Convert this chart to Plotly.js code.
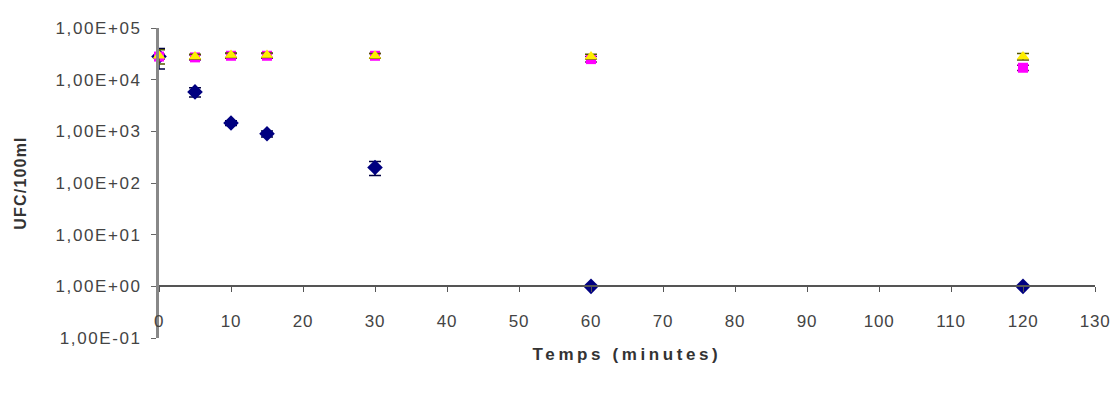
<!DOCTYPE html>
<html>
<head>
<meta charset="utf-8">
<script src="https://cdn.plot.ly/plotly-3.0.1.min.js"></script>
<style>
html,body{margin:0;padding:0;background:#fff;}
#chart{width:1116px;height:394px;}
#chart .ytick text{letter-spacing:1.6px;}
#chart .xtick text{letter-spacing:0.8px;}
#chart .xtitle{letter-spacing:3.6px;}
#chart .ytitle{letter-spacing:1.2px;}
</style>
</head>
<body>
<div id="chart"></div>
<script>
// Data
const times = [0, 5, 10, 15, 30, 60, 120];
const serieBleue = [28000, 5800, 1450, 900, 200, 1, 1];
const erreurBleue = [12000, 1200, 150, 120, 60, 0, 0];
const serieMagenta = [28000, 27000, 29000, 29000, 29000, 25000, 17000];
const erreurMagenta = [3000, 3000, 3000, 3000, 3000, 3000, 2000];
const serieJaune = [29000, 28000, 30000, 30000, 29000, 28000, 28000];
const erreurJaune = [9000, 3000, 3000, 3000, 3000, 3000, 4000];
const yTickVals = [0.1, 1, 10, 100, 1000, 10000, 100000];
const yTickText = ['1,00E-01', '1,00E+00', '1,00E+01', '1,00E+02', '1,00E+03', '1,00E+04', '1,00E+05'];
const xTickVals = [0, 10, 20, 30, 40, 50, 60, 70, 80, 90, 100, 110, 120, 130];

const traces = [
  {x: times, y: serieBleue, type: 'scatter', mode: 'markers', cliponaxis: false,
   marker: {symbol: 'diamond', size: 12, color: '#000080'},
   error_y: {type: 'data', array: erreurBleue, visible: true, color: '#000040', thickness: 1.5, width: 6}},
  {x: times, y: serieMagenta, type: 'scatter', mode: 'markers', cliponaxis: false,
   marker: {symbol: 'square', size: 10, color: '#FF00FF'},
   error_y: {type: 'data', array: erreurMagenta, visible: true, color: '#800080', thickness: 1.5, width: 6}},
  {x: times, y: serieJaune, type: 'scatter', mode: 'markers', cliponaxis: false,
   marker: {symbol: 'triangle-up', size: 11, color: '#FFEE00'},
   error_y: {type: 'data', array: erreurJaune, visible: true, color: '#555500', thickness: 1.5, width: 6}}
];

const layout = {
  width: 1116, height: 394,
  margin: {l: 159, r: 21, t: 28, b: 56},
  paper_bgcolor: '#fff', plot_bgcolor: '#fff',
  showlegend: false,
  font: {family: 'Liberation Sans, Arial, sans-serif', color: '#444', size: 17},
  xaxis: {
    range: [0, 130], tickvals: xTickVals, ticktext: xTickVals.map(String),
    showgrid: false, zeroline: false, showline: true, linecolor: '#555', linewidth: 2,
    ticks: 'outside', ticklen: 5, tickcolor: '#555', ticklabelstandoff: 14,
    anchor: 'free', position: 1/6,
    tickfont: {size: 17, color: '#444'},
    title: {text: '<b>Temps (minutes)</b>', font: {size: 17, color: '#333'}, standoff: 17}
  },
  yaxis: {
    type: 'log', range: [-1, 5], tickvals: yTickVals, ticktext: yTickText,
    showgrid: false, zeroline: false, showline: true, linecolor: '#888', linewidth: 3,
    ticks: 'outside', ticklen: 5, tickcolor: '#666', ticklabelstandoff: 6,
    tickfont: {size: 17, color: '#444'},
    title: {text: '<b>UFC/100ml</b>', font: {size: 16, color: '#333'}, standoff: 38}
  }
};

Plotly.newPlot('chart', traces, layout, {displayModeBar: false, staticPlot: true});
</script>
</body>
</html>
